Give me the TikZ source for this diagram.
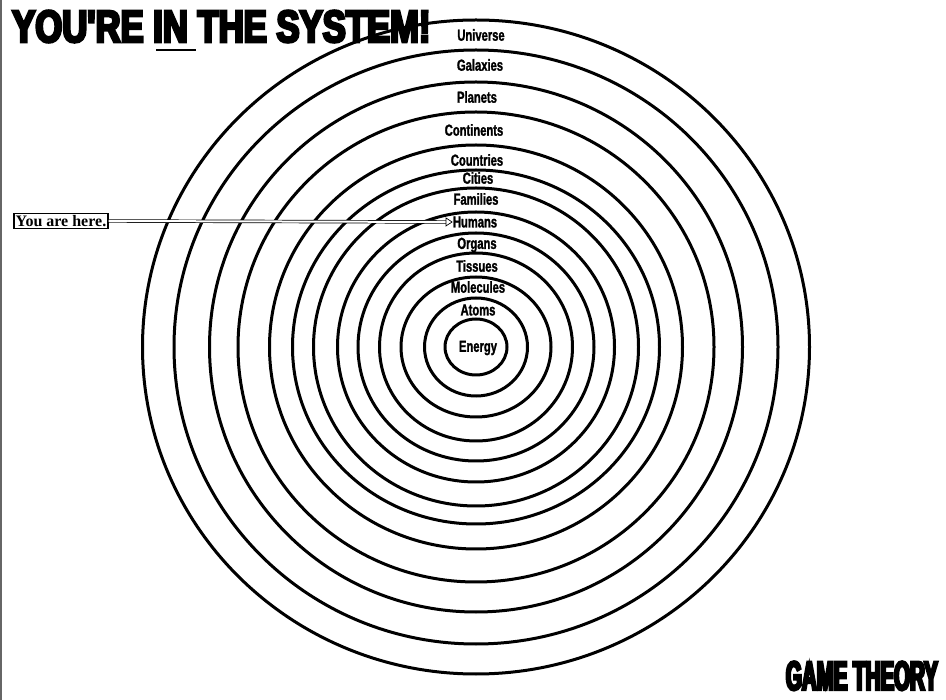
\documentclass[tikz,border=0pt]{standalone}
\usepackage{fontspec}
\usetikzlibrary{arrows.meta}
\newfontfamily\titulofont[FakeStretch=0.77,FakeBold=6]{Liberation Sans}
\newfontfamily\juegofont[FakeStretch=0.5,FakeBold=6]{Liberation Sans}
\newfontfamily\anillofont[FakeStretch=0.7,FakeBold=1.5]{Liberation Sans}
\newfontfamily\aquifont{Liberation Serif}
\begin{document}
\begin{tikzpicture}[x=1pt,y=-1pt,
    anillo/.style={line width=3pt},
    etiqueta/.style={font=\anillofont\bfseries\fontsize{16}{16}\selectfont, inner sep=0pt},
    flecha/.style={double=white, double distance=2pt, line width=0.7pt, -{Triangle[open,length=7pt,width=9pt]}}]
    \useasboundingbox (0,0) rectangle (946,700);
    \draw[line width=1.2pt, black!60] (1,0) -- (1,700);

    % Anillos
    \foreach \rx/\ry in {333.5/327, 302/297, 266.5/265, 238/235, 206.5/202, 183.5/177, 162.5/159,
                          138.5/135, 118/114, 96.5/94, 75/70, 51.5/49, 31/28}
        \draw[anillo] (476,347) ellipse [x radius=\rx pt, y radius=\ry pt];

    % Etiquetas
    \node[etiqueta] (universo)   at (481,35)  {Universe};
    \node[etiqueta] (galaxias)   at (480,65)  {Galaxies};
    \node[etiqueta] (planetas)   at (477,97)  {Planets};
    \node[etiqueta] (continentes) at (474,130) {Continents};
    \node[etiqueta] (paises)     at (477,160) {Countries};
    \node[etiqueta] (ciudades)   at (478,178) {Cities};
    \node[etiqueta] (familias)   at (476,199) {Families};
    \node[etiqueta] (humanos)    at (475,222) {Humans};
    \node[etiqueta] (organos)    at (477,245) {Organs};
    \node[etiqueta] (tejidos)    at (477,266) {Tissues};
    \node[etiqueta] (moleculas)  at (478,287) {Molecules};
    \node[etiqueta] (atomos)     at (478,310) {Atoms};
    \node[etiqueta] (energia)    at (478,348) {Energy};

    % Titulos
    \node[anchor=base west, inner sep=0pt, font=\titulofont\bfseries\fontsize{45}{45}\selectfont]
        (titulo) at (12,42) {YOU'RE IN THE SYSTEM!};
    \draw[line width=2pt] (156,50) -- (196,50);
    \node[anchor=base east, inner sep=0pt, font=\juegofont\bfseries\fontsize{41}{41}\selectfont]
        (juego) at (938,690) {GAME THEORY};

    % Usted esta aqui
    \node[draw, line width=1.2pt, inner sep=1.8pt, font=\aquifont\bfseries\fontsize{16}{16}\selectfont]
        (aqui) at (61,221) {You are here.};
    \draw[flecha] (aqui.east) -- (humanos.west);
\end{tikzpicture}
\end{document}
